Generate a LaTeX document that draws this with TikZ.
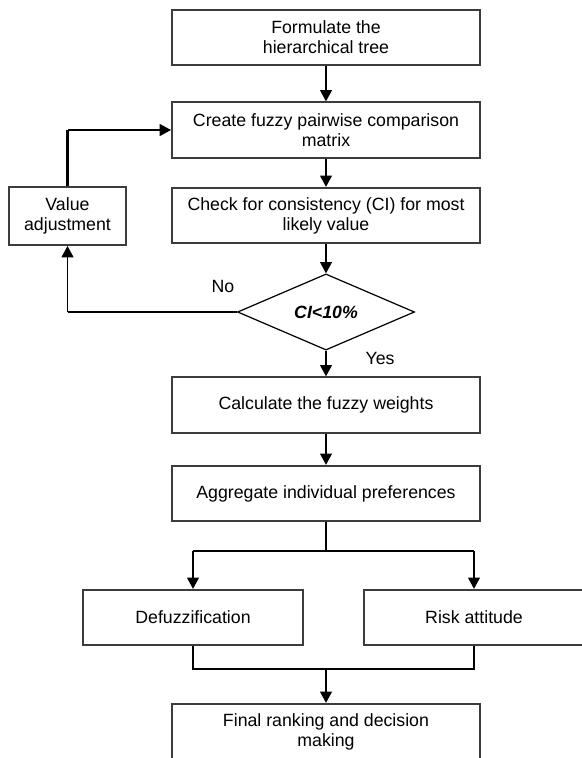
\documentclass[tikz,border=0pt]{standalone}
\usepackage{fontspec}
\setmainfont{Liberation Sans}
\usepackage{xcolor}
\usetikzlibrary{arrows.meta,shapes.geometric}

\definecolor{boxgray}{RGB}{60,60,60}

\begin{document}
\begin{tikzpicture}[x=0.75pt,y=0.75pt,yscale=-1,
    font=\fontsize{13.3}{15}\selectfont,
    stepbox/.style={draw=boxgray, line width=1.5pt, rectangle, align=center, inner sep=2pt},
    mainbox/.style={stepbox, minimum width=231pt, minimum height=41.5pt},
    sidebox/.style={stepbox, minimum width=165pt, minimum height=41.5pt},
    decision/.style={draw, line width=0.9pt, diamond, inner sep=0pt, minimum width=132.75pt, minimum height=54.75pt},
    conn/.style={line width=0.9pt},
    thickconn/.style={line width=1.6pt},
    arrow/.style={conn, -{Triangle[length=8.5pt,width=9pt]}}]

    \useasboundingbox (0,0) rectangle (582,758);

    \draw (326,37.5) node [mainbox] (formulate) {Formulate the\\hierarchical tree};
    \draw (326,130) node [mainbox] (create) {Create fuzzy pairwise comparison\\matrix};
    \draw (326,215.5) node [mainbox] (check) {Check for consistency (CI) for most\\likely value};
    \draw (67.5,216) node [stepbox, minimum width=88pt, minimum height=43.5pt] (adjust) {Value\\adjustment};
    \draw (326,312) node [decision] (cond) {\textbf{\textit{CI<10\%}}};
    \draw (326,405) node [mainbox] (weights) {Calculate the fuzzy weights};
    \draw (326,493.5) node [mainbox] (aggregate) {Aggregate individual preferences};
    \draw (193,617.5) node [sidebox] (defuzz) {Defuzzification};
    \draw (474,617.5) node [sidebox] (risk) {Risk attitude};
    \draw (326,731.5) node [mainbox] (final) {Final ranking and decision\\making};

    \draw (223,286) node (no) {No};
    \draw (380,358) node (yes) {Yes};

    \coordinate (noturn) at (adjust.south |- cond.west);
    \coordinate (loopturn) at (adjust.north |- create.west);
    \coordinate (split) at (326,551);
    \coordinate (merge) at (326,669);

    \draw [arrow] (formulate) -- (create);
    \draw [arrow] (create) -- (check);
    \draw [arrow] (check) -- (cond);
    \draw [thickconn] (cond.west) -- (noturn);
    \draw [arrow] (noturn) -- (adjust);
    \draw [thickconn] (adjust) -- (loopturn);
    \draw [arrow] (loopturn) -- (create);
    \draw [arrow] (cond) -- (weights);
    \draw [arrow] (weights) -- (aggregate);
    \draw [thickconn] (aggregate) -- (split);
    \draw [thickconn] (defuzz |- split) -- (risk |- split);
    \draw [arrow] (defuzz |- split) -- (defuzz);
    \draw [arrow] (risk |- split) -- (risk);
    \draw [thickconn] (defuzz) |- (merge) -| (risk);
    \draw [arrow] (merge) -- (final);

\end{tikzpicture}
\end{document}
